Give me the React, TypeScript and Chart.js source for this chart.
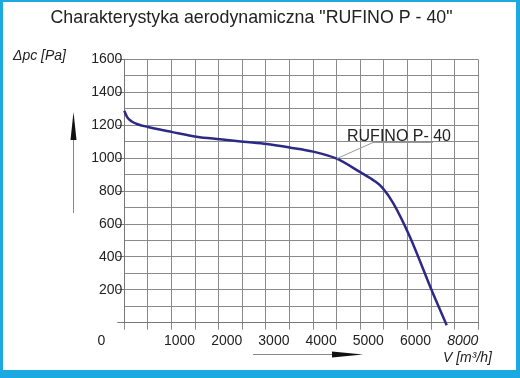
import React, { useEffect, useRef } from "react";
import { Chart, registerables } from "chart.js";

Chart.register(...registerables);

const flowValues = [0, 60, 150, 300, 500, 750, 1000, 1530, 2030, 2520, 3020, 3500, 4000, 4500, 5000, 5300, 5470, 5700, 6050, 6510, 6830];
const pressureValues = [1288, 1250, 1225, 1205, 1190, 1174, 1160, 1131, 1115, 1100, 1086, 1065, 1040, 997, 915, 862, 820, 726, 523, 199, -15];
const xTickLabels = ["0", "1000", "2000", "3000", "4000", "5000", "6000", "8000"];
const yTickLabels = ["200", "400", "600", "800", "1000", "1200", "1400", "1600"];
const seriesName = "RUFINO P- 40";
const chartTitle = 'Charakterystyka aerodynamiczna "RUFINO P - 40"';
const yAxisTitle = "\u0394pc [Pa]";
const xAxisTitle = "V [m\u00b3/h]";

const FONT = "'Liberation Sans', Arial, sans-serif";
const TEXT = "#222";

const overlay = {
  id: "overlay",
  afterDraw(chart: any) {
    const ctx = chart.ctx;
    const area = chart.chartArea;
    const xs = chart.scales.x;
    const ys = chart.scales.y;
    ctx.save();
    // title
    ctx.fillStyle = TEXT;
    ctx.font = `17.8px ${FONT}`;
    ctx.textAlign = "center";
    ctx.textBaseline = "middle";
    ctx.fillText(chartTitle, 251.5, 18.5);
    // y axis title
    ctx.font = `italic 14px ${FONT}`;
    ctx.textAlign = "left";
    ctx.fillText(yAxisTitle, 13, 56);
    // x axis title
    ctx.fillText(xAxisTitle, 443, 358);
    // origin label
    ctx.font = `14px ${FONT}`;
    ctx.textAlign = "center";
    ctx.fillText(xTickLabels[0], area.left - 23, 341);
    // y arrow
    ctx.strokeStyle = "#888";
    ctx.lineWidth = 1;
    ctx.beginPath();
    ctx.moveTo(73.5, 213);
    ctx.lineTo(73.5, 135);
    ctx.stroke();
    ctx.fillStyle = "#111";
    ctx.beginPath();
    ctx.moveTo(73.5, 112);
    ctx.lineTo(70.5, 140);
    ctx.lineTo(76.5, 140);
    ctx.closePath();
    ctx.fill();
    // x arrow
    ctx.beginPath();
    ctx.moveTo(253, 354.5);
    ctx.lineTo(335, 354.5);
    ctx.stroke();
    ctx.beginPath();
    ctx.moveTo(363, 354.5);
    ctx.lineTo(332, 351.5);
    ctx.lineTo(332, 357.5);
    ctx.closePath();
    ctx.fill();
    // series label with leader
    const px = xs.getPixelForValue(flowValues[13]);
    const py = ys.getPixelForValue(pressureValues[13]);
    ctx.strokeStyle = "#999";
    ctx.beginPath();
    ctx.moveTo(px, py);
    ctx.lineTo(373, 142.5);
    ctx.lineTo(433, 142.5);
    ctx.stroke();
    ctx.fillStyle = TEXT;
    ctx.font = `16px ${FONT}`;
    ctx.textAlign = "left";
    ctx.textBaseline = "alphabetic";
    ctx.fillText(seriesName, 347, 141);
    ctx.restore();
  },
};

export default function App() {
  const ref = useRef<HTMLCanvasElement | null>(null);
  useEffect(() => {
    if (!ref.current) return;
    const chart = new Chart(ref.current, {
      type: "line",
      data: {
        datasets: [
          {
            label: seriesName,
            data: flowValues.map((x, i) => ({ x, y: pressureValues[i] })),
            borderColor: "#2d2a86",
            borderWidth: 2.5,
            pointRadius: 0,
            cubicInterpolationMode: "monotone",
            fill: false,
            clip: false as any,
          },
        ],
      },
      options: {
        responsive: false,
        animation: false,
        layout: { padding: { left: 0, right: 41.7, top: 59.5, bottom: 0 } },
        plugins: { legend: { display: false }, title: { display: false }, tooltip: { enabled: false } },
        scales: {
          x: {
            type: "linear",
            min: 0,
            max: 7500,
            border: { display: true, color: "#777" },
            grid: {
              color: "#8a8a8a",
              lineWidth: 1,
              tickLength: 7,
              tickColor: "#8a8a8a",
            },
            ticks: {
              stepSize: 500,
              autoSkip: false,
              maxRotation: 0,
              labelOffset: 8,
              padding: 3,
              color: TEXT,
              font: (c: any) => ({
                family: FONT,
                size: 14,
                style: c.tick && c.tick.value === 7000 ? "italic" : "normal",
              }),
              callback: (v: any) => {
                const n = Number(v);
                if (n === 0 || n % 1000 !== 0) return "";
                return xTickLabels[n / 1000] ?? "";
              },
            },
            afterFit: (s: any) => {
              s.height = 55.3;
            },
          },
          y: {
            min: 0,
            max: 1600,
            border: { display: true, color: "#777" },
            grid: {
              color: "#8a8a8a",
              lineWidth: 1,
              tickLength: 7,
              tickColor: (c: any) => (c.tick && c.tick.value % 200 === 0 ? "#777" : "rgba(0,0,0,0)"),
            },
            ticks: {
              stepSize: 100,
              autoSkip: false,
              padding: -5,
              color: TEXT,
              font: { family: FONT, size: 14 },
              callback: (v: any) => {
                const n = Number(v);
                if (n === 0 || n % 200 !== 0) return "";
                return yTickLabels[n / 200 - 1] ?? "";
              },
            },
            afterFit: (s: any) => {
              s.width = 124.3;
            },
          },
        },
      },
      plugins: [overlay],
    });
    return () => chart.destroy();
  }, []);
  return (
    <div style={{ position: "fixed", left: 0, top: 0, width: 520, height: 378, background: "#fff" }}>
      <div
        style={{
          position: "absolute",
          inset: 0,
          boxSizing: "border-box",
          borderStyle: "solid",
          borderColor: "#1aa9e1",
          borderWidth: "2px 4px 8px 3px",
        }}
      />
      <canvas ref={ref} width={520} height={378} style={{ position: "absolute", left: 0, top: 0 }} />
    </div>
  );
}
